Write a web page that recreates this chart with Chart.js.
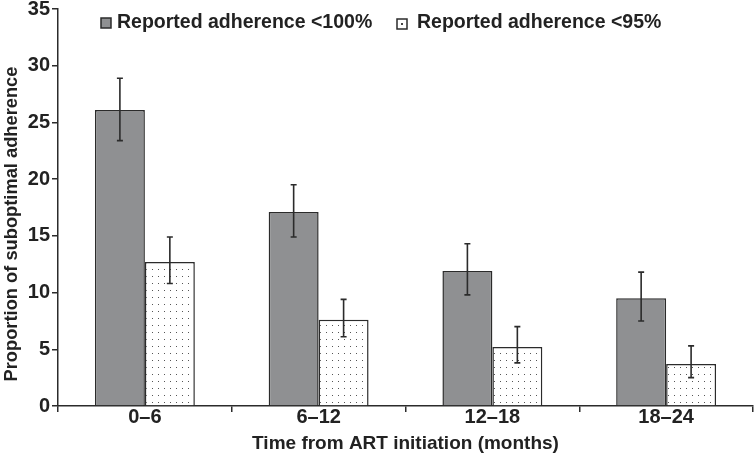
<!DOCTYPE html>
<html>
<head>
<meta charset="utf-8">
<script src="https://cdn.jsdelivr.net/npm/chart.js@4.4.0/dist/chart.umd.min.js"></script>
<style>
  html, body { margin: 0; padding: 0; background: #fff; }
  #wrap { width: 755px; height: 462px; position: relative; }
</style>
</head>
<body>
<div id="wrap"><canvas id="c" width="755" height="462"></canvas></div>
<script>
// ---- data ----
const categories = ['0\u20136', '6\u201312', '12\u201318', '18\u201324'];
const seriesNames = ['Reported adherence <100%', 'Reported adherence <95%'];
const adherence100 = [26.1, 17.1, 11.9, 9.5];
const adherence100Low = [23.4, 14.9, 9.8, 7.5];
const adherence100High = [28.9, 19.5, 14.3, 11.8];
const adherence95 = [12.7, 7.6, 5.2, 3.7];
const adherence95Low = [10.8, 6.1, 3.8, 2.5];
const adherence95High = [14.9, 9.4, 7.0, 5.3];
const yTicks = [0, 5, 10, 15, 20, 25, 30, 35];
const yTitle = 'Proportion of suboptimal adherence';
const xTitle = 'Time from ART initiation (months)';

const FONT = '"Liberation Sans", Arial, Helvetica, sans-serif';
const TEXT = '#222';
const EDGE = '#2b2b2b';
const GRAY = '#8f9092';

function dotPattern() {
  const p = document.createElement('canvas');
  p.width = 6; p.height = 7;
  const g = p.getContext('2d');
  g.fillStyle = '#fff';
  g.fillRect(0, 0, 6, 7);
  g.fillStyle = '#555';
  g.fillRect(2, 3, 1, 1);
  return g.createPattern(p, 'repeat');
}
const DOTS = dotPattern();

const errorBars = {
  id: 'errorBars',
  afterDatasetsDraw(chart) {
    const ctx = chart.ctx;
    const y = chart.scales.y;
    ctx.save();
    ctx.strokeStyle = EDGE;
    ctx.lineWidth = 1.6;
    chart.data.datasets.forEach((ds, di) => {
      const meta = chart.getDatasetMeta(di);
      meta.data.forEach((bar, i) => {
        const x = bar.x;
        const yl = y.getPixelForValue(ds.errLow[i]);
        const yh = y.getPixelForValue(ds.errHigh[i]);
        ctx.beginPath();
        ctx.moveTo(x, yl); ctx.lineTo(x, yh);
        ctx.moveTo(x - 3, yl); ctx.lineTo(x + 3, yl);
        ctx.moveTo(x - 3, yh); ctx.lineTo(x + 3, yh);
        ctx.stroke();
      });
    });
    ctx.restore();
  }
};

const customLegend = {
  id: 'customLegend',
  afterDraw(chart) {
    const ctx = chart.ctx;
    const items = [
      { box: [101, 18], text: [117, 23] },
      { box: [397, 19], text: [417, 23] }
    ];
    ctx.save();
    chart.data.datasets.forEach((ds, i) => {
      const it = items[i];
      ctx.fillStyle = i === 0 ? GRAY : '#fff';
      ctx.fillRect(it.box[0], it.box[1], 10, 10);
      if (i === 1) { ctx.fillStyle = '#444'; ctx.fillRect(it.box[0] + 4, it.box[1] + 4, 2, 2); }
      ctx.strokeStyle = EDGE; ctx.lineWidth = 1.5;
      ctx.strokeRect(it.box[0], it.box[1], 10, 10);
      ctx.fillStyle = TEXT;
      ctx.font = 'bold 19.5px ' + FONT;
      ctx.textBaseline = 'middle';
      ctx.textAlign = 'left';
      ctx.fillText(ds.label, it.text[0], it.text[1]);
    });
    // y-axis title
    ctx.save();
    ctx.translate(12, 224);
    ctx.rotate(-Math.PI / 2);
    ctx.font = 'bold 18.3px ' + FONT;
    ctx.textAlign = 'center';
    ctx.textBaseline = 'middle';
    ctx.fillText(yTitle, 0, 0);
    ctx.restore();
    ctx.restore();
  }
};

new Chart(document.getElementById('c'), {
  type: 'bar',
  data: {
    labels: categories,
    datasets: [
      { label: seriesNames[0], data: adherence100, errLow: adherence100Low, errHigh: adherence100High,
        backgroundColor: GRAY, borderColor: EDGE, borderWidth: 1.5 },
      { label: seriesNames[1], data: adherence95, errLow: adherence95Low, errHigh: adherence95High,
        backgroundColor: DOTS, borderColor: EDGE, borderWidth: 1.5 }
    ]
  },
  plugins: [errorBars, customLegend],
  options: {
    responsive: false,
    animation: false,
    devicePixelRatio: 1,
    layout: { padding: { top: 0, right: 2, left: 0, bottom: 0 } },
    datasets: { bar: { categoryPercentage: 0.575, barPercentage: 1.0 } },
    plugins: { legend: { display: false }, tooltip: { enabled: false } },
    scales: {
      x: {
        offset: true,
        grid: { display: true, offset: true, drawOnChartArea: false, drawTicks: true, tickLength: 6, color: EDGE, lineWidth: 1.5 },
        border: { display: true, color: EDGE, width: 1.5 },
        ticks: { color: TEXT, font: { family: FONT, size: 20, weight: 'bold', lineHeight: 1.0 }, padding: -5 },
        title: { display: true, text: xTitle, color: TEXT, font: { family: FONT, size: 19, weight: 'bold' }, padding: { top: 0, bottom: 6.5 } },
        afterFit(s) { s.height = 56; }
      },
      y: {
        min: 0, max: 35,
        afterBuildTicks(s) { s.ticks = yTicks.map(v => ({ value: v })); },
        grid: { display: true, drawOnChartArea: false, drawTicks: true, tickLength: 6, color: EDGE, lineWidth: 1.5 },
        border: { display: true, color: EDGE, width: 1.5 },
        ticks: { color: TEXT, font: { family: FONT, size: 20, weight: 'bold', lineHeight: 0.7 }, padding: 2 },
        title: { display: false },
        afterFit(s) { s.width = 58; }
      }
    }
  }
});
</script>
</body>
</html>
